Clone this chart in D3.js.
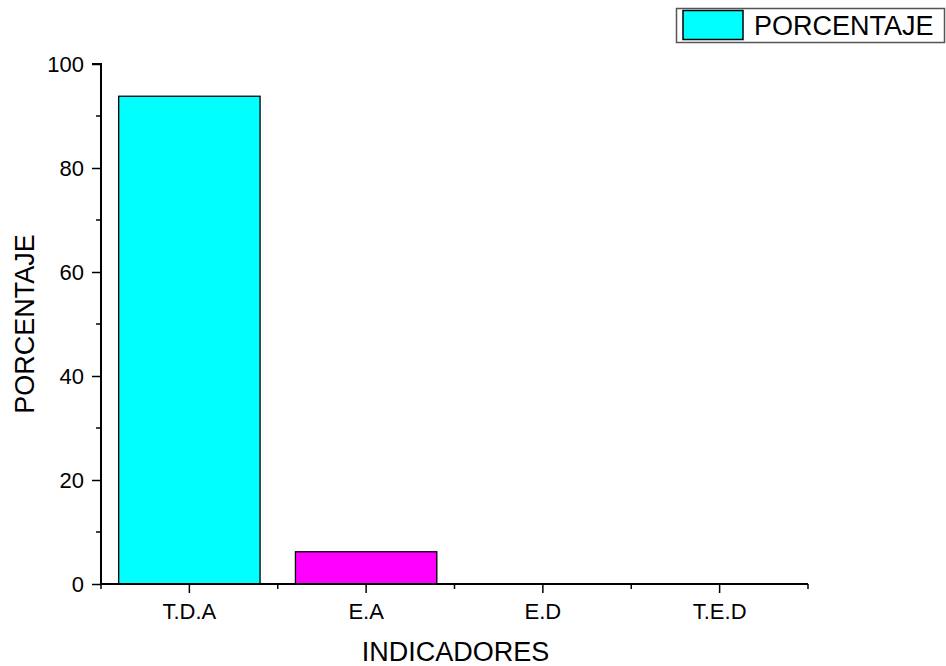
<!DOCTYPE html>
<html>
<head>
<meta charset="utf-8">
<script src="https://cdn.jsdelivr.net/npm/d3@7/dist/d3.min.js"></script>
<style>
  html, body { margin: 0; padding: 0; background: #fff; }
  svg { display: block; font-family: Arial, "Liberation Sans", sans-serif; }
</style>
</head>
<body>
<svg id="chart" width="946" height="666"></svg>
<script>
// Indicator categories and their percentages
const categories = ["T.D.A", "E.A", "E.D", "T.E.D"];
const values = [93.8, 6.2, 0, 0];
const barColors = ["#00ffff", "#ff00ff", "#00ffff", "#00ffff"];
const yTicks = [0, 20, 40, 60, 80, 100];
const yMinorTicks = [10, 30, 50, 70, 90];
const seriesName = "PORCENTAJE";
const xTitle = "INDICADORES";
const yTitle = "PORCENTAJE";

const svg = d3.select("#chart");
const margin = { left: 101, right: 138, top: 64, bottom: 82 };
const W = 946, H = 666;
const plotW = W - margin.left - margin.right;
const plotH = H - margin.top - margin.bottom;

const x = d3.scaleBand().domain(categories).range([0, plotW]).paddingInner(0.2).paddingOuter(0.1);
const xStep = x.step();
const y = d3.scaleLinear().domain([0, 100]).range([plotH, 0]);

const g = svg.append("g").attr("transform", `translate(${margin.left},${margin.top})`);

// Bars
g.selectAll("rect.bar")
  .data(categories.map((c, i) => ({ c, v: values[i], col: barColors[i] })).filter(d => d.v > 0))
  .join("rect")
  .attr("class", "bar")
  .attr("x", d => x(d.c))
  .attr("y", d => y(d.v))
  .attr("width", x.bandwidth())
  .attr("height", d => y(0) - y(d.v))
  .attr("fill", d => d.col)
  .attr("stroke", "#000")
  .attr("stroke-width", 1.3);

// Y axis
const yAxis = g.append("g")
  .call(d3.axisLeft(y).tickValues(yTicks).tickSize(9).tickPadding(8).tickFormat(d3.format("d")));
yAxis.select(".domain").attr("stroke-width", 2).attr("d", `M0,${plotH}V0H-9`);
yAxis.selectAll(".tick line").attr("stroke-width", 1.5);
yAxis.selectAll(".tick text").attr("font-size", 22).attr("fill", "#000").attr("font-family", "Arial, 'Liberation Sans', sans-serif");
g.append("g").selectAll("line")
  .data(yMinorTicks).join("line")
  .attr("x1", -5).attr("x2", 0)
  .attr("y1", d => y(d)).attr("y2", d => y(d))
  .attr("stroke", "#000").attr("stroke-width", 1.5);

// X axis
const xAxis = g.append("g").attr("transform", `translate(0,${plotH})`)
  .call(d3.axisBottom(x).tickSize(9).tickPadding(10));
xAxis.select(".domain").attr("stroke-width", 2).attr("d", `M0,0H${plotW}`);
xAxis.selectAll(".tick line").attr("stroke-width", 1.5);
xAxis.selectAll(".tick text").attr("font-size", 22).attr("fill", "#000").attr("font-family", "Arial, 'Liberation Sans', sans-serif");
// minor ticks at category boundaries
g.append("g").selectAll("line")
  .data(d3.range(categories.length + 1)).join("line")
  .attr("x1", i => i * xStep).attr("x2", i => i * xStep)
  .attr("y1", plotH).attr("y2", plotH + 5)
  .attr("stroke", "#000").attr("stroke-width", 1.5);

// Axis titles
svg.append("text")
  .attr("x", margin.left + plotW / 2 + 1)
  .attr("y", 661)
  .attr("text-anchor", "middle")
  .attr("font-size", 27)
  .text(xTitle);
svg.append("text")
  .attr("transform", `translate(34,${margin.top + plotH / 2}) rotate(-90)`)
  .attr("text-anchor", "middle")
  .attr("font-size", 27)
  .text(yTitle);

// Legend
const leg = svg.append("g");
leg.append("rect").attr("x", 676.5).attr("y", 8.5).attr("width", 268).attr("height", 34)
  .attr("fill", "#fff").attr("stroke", "#555").attr("stroke-width", 1.5);
leg.append("rect").attr("x", 683).attr("y", 10.5).attr("width", 60).attr("height", 29)
  .attr("fill", barColors[0]).attr("stroke", "#000").attr("stroke-width", 1.5);
leg.append("text").attr("x", 754).attr("y", 35).attr("font-size", 27).text(seriesName);
</script>
</body>
</html>
